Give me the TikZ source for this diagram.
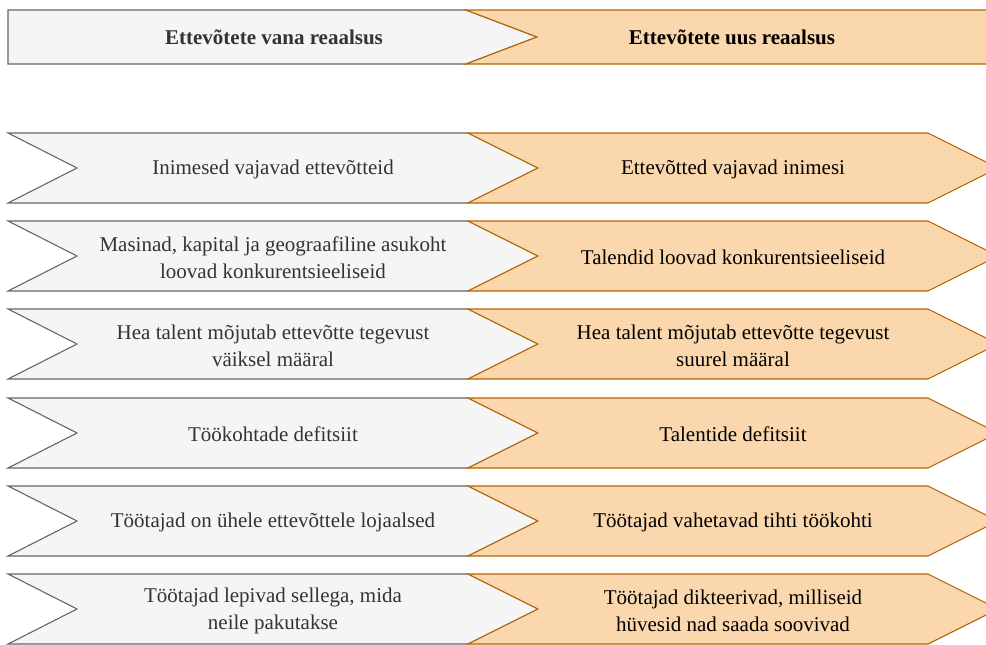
\documentclass[tikz,border=0pt]{standalone}
\usepackage{fontspec}
\setmainfont{Liberation Serif}
\definecolor{greyfill}{HTML}{F5F5F5}
\definecolor{greyline}{HTML}{666666}
\definecolor{orfill}{HTML}{FAD7AC}
\definecolor{orline}{HTML}{B46504}
\definecolor{oldtext}{HTML}{333333}
\newcommand\chevpair[4]{%
  \begin{scope}[shift={(0,#1)}]
    \draw[oldshape] (8,0) -- (468,0) -- (538,35) -- (468,70) -- (8,70) -- (77,35) -- cycle;
    \draw[newshape] (468,0) -- (928,0) -- (998,35) -- (928,70) -- (468,70) -- (538,35) -- cycle;
    \node[lbl,text=oldtext] (#4old) at (273,36.5) {#2};
    \node[lbl] (#4new) at (733,36.5) {#3};
  \end{scope}}
\begin{document}
\begin{tikzpicture}[x=1pt,y=-1pt,
  oldshape/.style={fill=greyfill,draw=greyline,line width=1.1pt,line join=miter},
  newshape/.style={fill=orfill,draw=orline,line width=1.1pt,line join=miter},
  lbl/.style={align=center,font=\fontsize{21}{27}\selectfont,text=black,inner sep=0pt},
  hdr/.style={align=center,font=\fontsize{21}{27}\selectfont\bfseries,text=black,inner sep=0pt}]
\useasboundingbox (0,0) rectangle (986,645);
\begin{scope}
\clip (0,0) rectangle (986,645);
\draw[oldshape] (8,10) -- (466,10) -- (537,37) -- (466,64) -- (8,64) -- cycle;
\draw[newshape] (466,10) -- (1000,10) -- (1000,64) -- (466,64) -- (537,37) -- cycle;
\node[hdr,text=oldtext] (hold) at (274,37.5) {Ettevõtete vana reaalsus};
\node[hdr] (hnew) at (732,37.5) {Ettevõtete uus reaalsus};
\chevpair{133}{Inimesed vajavad ettevõtteid}{Ettevõtted vajavad inimesi}{r1}
\chevpair{221}{Masinad, kapital ja geograafiline asukoht\\loovad konkurentsieeliseid}{Talendid loovad konkurentsieeliseid}{r2}
\chevpair{309}{Hea talent mõjutab ettevõtte tegevust\\väiksel määral}{Hea talent mõjutab ettevõtte tegevust\\suurel määral}{r3}
\chevpair{398}{Töökohtade defitsiit}{Talentide defitsiit}{r4}
\chevpair{486}{Töötajad on ühele ettevõttele lojaalsed}{Töötajad vahetavad tihti töökohti}{r5}
\chevpair{574}{Töötajad lepivad sellega, mida\\neile pakutakse}{Töötajad dikteerivad, milliseid\\hüvesid nad saada soovivad}{r6}
\end{scope}
\end{tikzpicture}
\end{document}
